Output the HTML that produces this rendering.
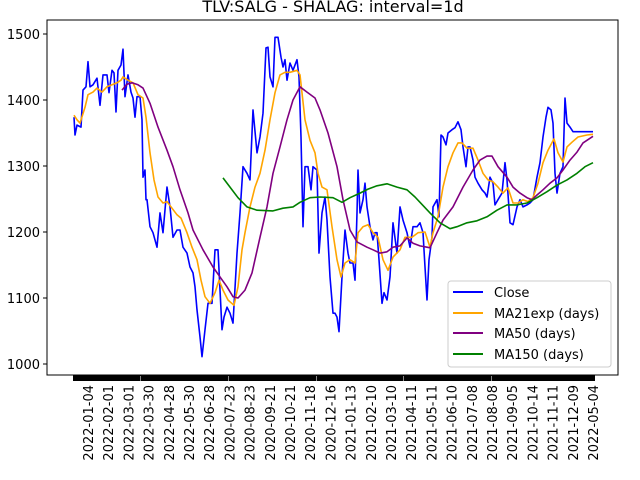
<!DOCTYPE html>
<html><head><meta charset="utf-8"><style>
body{margin:0;background:#fff;}
svg{display:block;font-family:"DejaVu Sans","Liberation Sans",sans-serif;}
</style></head><body>
<svg id="chart" width="640" height="480" viewBox="0 0 640 480" xmlns="http://www.w3.org/2000/svg">
<rect x="0" y="0" width="640" height="480" fill="#fff"/>
<text x="333" y="12" font-size="16" text-anchor="middle" fill="#000">TLV:SALG - SHALAG: interval=1d</text>
<g id="plot"></g>
<rect x="47" y="20" width="571" height="355" fill="none" stroke="#000" stroke-width="1"/>
<g id="yaxis"></g>
<g id="xaxis"></g>
<g id="legend">
<rect x="448" y="281" width="163" height="86" rx="3" fill="#fff" fill-opacity="0.8" stroke="#ccc"/>
<g><line x1="453" y1="292" x2="483" y2="292" stroke="#0000ff" stroke-width="2"/><text x="494" y="297" font-size="13">Close</text></g>
<g><line x1="453" y1="313" x2="483" y2="313" stroke="#ffa500" stroke-width="2"/><text x="494" y="318" font-size="13">MA21exp (days)</text></g>
<g><line x1="453" y1="333" x2="483" y2="333" stroke="#800080" stroke-width="2"/><text x="494" y="338" font-size="13">MA50 (days)</text></g>
<g><line x1="453" y1="354" x2="483" y2="354" stroke="#008000" stroke-width="2"/><text x="494" y="359" font-size="13">MA150 (days)</text></g>
</g>
</svg>
<script>
const closeIdx=[0,1,3,7,9,12,14,16,19,23,26,29,33,35,38,40,42,44,47,49,51,54,57,59,61,63,66,68,69,71,72,73,76,79,83,86,89,93,96,99,103,106,109,113,116,119,121,123,126,128,131,134,138,141,144,148,150,153,156,159,163,166,169,173,176,179,183,186,189,192,194,196,199,201,204,207,209,211,213,216,219,223,225,227,229,231,234,237,239,243,245,248,251,253,256,259,261,263,265,268,271,274,276,279,281,283,284,286,289,291,293,296,299,301,303,305,308,310,313,316,319,323,326,329,333,336,339,343,346,349,351,353,355,358,359,363,365,367,369,372,374,378,381,384,387,389,392,394,396,399,401,404,408,411,413,416,419,421,424,428,431,433,436,439,443,446,449,453,456,459,463,466,469,472,474,477,479,481,483,486,489,491,493,496,499,519];
const closeVal=[1374,1347,1362,1359,1415,1420,1458,1420,1423,1433,1392,1438,1438,1411,1445,1441,1382,1445,1453,1477,1405,1438,1412,1403,1374,1405,1405,1370,1283,1294,1249,1249,1208,1199,1177,1229,1199,1268,1238,1192,1203,1203,1177,1168,1147,1138,1117,1082,1041,1011,1052,1092,1092,1173,1173,1052,1071,1086,1077,1062,1168,1229,1299,1289,1279,1385,1320,1344,1380,1479,1480,1435,1420,1495,1495,1465,1450,1461,1430,1456,1445,1461,1435,1344,1208,1299,1299,1264,1299,1294,1168,1229,1253,1218,1132,1077,1077,1071,1049,1132,1203,1168,1153,1153,1127,1229,1294,1229,1249,1274,1238,1208,1188,1199,1199,1158,1092,1108,1097,1132,1214,1168,1238,1218,1199,1177,1208,1208,1214,1199,1147,1097,1158,1192,1238,1249,1223,1347,1344,1332,1350,1355,1358,1367,1355,1329,1299,1329,1329,1309,1283,1274,1264,1259,1253,1283,1274,1241,1249,1259,1305,1279,1214,1211,1238,1249,1238,1241,1244,1249,1283,1305,1344,1374,1389,1385,1365,1289,1259,1289,1299,1403,1365,1359,1352,1352];
const ma21Idx=[0,3,6,11,14,19,23,28,33,38,43,47,49,54,59,64,69,72,76,80,84,89,93,98,103,107,113,118,123,127,131,136,141,145,149,154,160,164,168,171,176,181,186,191,196,201,206,211,216,223,226,231,236,241,244,248,253,258,263,267,271,276,281,284,289,294,299,304,309,314,319,326,331,338,344,351,356,359,364,369,374,379,384,388,393,399,404,409,414,419,424,429,434,439,444,449,454,459,464,469,474,480,484,489,493,498,504,513,519];
const ma21Val=[1377,1370,1365,1389,1408,1412,1418,1412,1420,1423,1426,1430,1435,1430,1426,1408,1403,1374,1320,1279,1253,1244,1246,1236,1226,1221,1199,1177,1158,1127,1102,1092,1108,1127,1112,1097,1089,1117,1173,1199,1238,1268,1289,1324,1370,1411,1438,1442,1442,1445,1438,1370,1339,1320,1289,1268,1264,1208,1158,1132,1153,1158,1153,1199,1208,1211,1199,1192,1158,1142,1162,1173,1192,1192,1199,1200,1177,1199,1223,1268,1299,1320,1335,1335,1327,1327,1309,1289,1279,1276,1268,1259,1267,1244,1244,1249,1246,1252,1274,1305,1324,1341,1320,1306,1329,1336,1344,1347,1348];
const ma50Idx=[48,53,58,64,69,76,84,93,99,106,114,119,129,139,146,153,159,164,171,178,186,193,199,206,213,219,226,233,241,246,254,263,269,276,283,293,299,306,313,319,326,333,339,346,353,356,363,369,379,389,399,406,413,418,424,433,439,446,453,458,463,469,476,483,489,496,503,509,519];
const ma50Val=[1415,1424,1426,1423,1418,1395,1359,1324,1299,1264,1229,1203,1173,1147,1132,1117,1102,1100,1112,1138,1192,1238,1289,1329,1370,1400,1420,1412,1403,1385,1350,1299,1249,1203,1185,1177,1173,1168,1170,1177,1179,1191,1183,1179,1177,1176,1199,1218,1238,1268,1294,1309,1315,1315,1299,1283,1268,1259,1252,1249,1256,1264,1274,1282,1294,1309,1321,1335,1345];
const ma150Idx=[149,156,164,173,183,199,209,219,226,236,246,259,268,276,286,294,303,313,323,333,341,346,356,366,376,383,393,403,413,423,433,443,453,463,473,483,493,503,511,519];
const ma150Val=[1282,1268,1252,1238,1233,1232,1236,1238,1245,1252,1253,1252,1245,1252,1259,1265,1270,1273,1268,1264,1253,1245,1229,1214,1205,1208,1214,1217,1223,1233,1241,1241,1244,1252,1261,1271,1279,1289,1299,1305];
const yTicks=[1000,1100,1200,1300,1400,1500];
const xLabels=["2022-01-04","2022-02-01","2022-03-01","2022-03-30","2022-04-28","2022-05-30","2022-06-28","2020-07-23","2020-08-23","2020-09-21","2020-10-21","2020-11-18","2020-12-16","2021-01-13","2021-02-10","2021-03-10","2021-04-11","2021-05-11","2021-06-10","2021-07-08","2021-08-08","2021-09-05","2021-10-14","2021-11-11","2021-12-09","2022-05-04"];
const nDays=520;

const NS="http://www.w3.org/2000/svg";
const xs=i=>74+i*(519/(nDays-1));
const ys=v=>34+(1500-v)*0.66;
function mk(tag,attrs,parent){const e=document.createElementNS(NS,tag);for(const k in attrs)e.setAttribute(k,attrs[k]);parent.appendChild(e);return e;}
const plot=document.getElementById('plot');
function series(idx,val,color,name){
  const d=idx.map((i,k)=>(k?'L':'M')+xs(i).toFixed(1)+' '+ys(val[k]).toFixed(1)).join('');
  const p=mk('path',{d:d,fill:'none',stroke:color,'stroke-width':1.6,'stroke-linejoin':'round'},plot);
  
  
}
series(closeIdx,closeVal,'#0000ff','close-line');
series(ma21Idx,ma21Val,'#ffa500','ma21exp-line');
series(ma50Idx,ma50Val,'#800080','ma50-line');
series(ma150Idx,ma150Val,'#008000','ma150-line');

const ya=document.getElementById('yaxis');
yTicks.forEach(t=>{
  const y=ys(t);
  const l=mk('line',{x1:43,x2:47,y1:y,y2:y,stroke:'#000'},ya);
  
  
  const tx=mk('text',{x:40,y:y+5,'font-size':13,'text-anchor':'end'},ya);
  tx.textContent=t;
  
  
});
const xa=document.getElementById('xaxis');
const bar=mk('rect',{x:73,y:375,width:522,height:6,fill:'#000'},xa);


[140,228,316,403,491].forEach(g=>{
  const r=mk('rect',{x:g,y:376,width:1,height:5,fill:'#888'},xa);
  
  
});
const step=(593-88)/(xLabels.length-1);
xLabels.forEach((s,k)=>{
  const x=88+k*step;
  const tx=mk('text',{x:0,y:0,'font-size':13,'text-anchor':'end',transform:`translate(${(x+5).toFixed(1)},385) rotate(-90)`},xa);
  tx.textContent=s;
  
  
});
</script>
</body></html>
